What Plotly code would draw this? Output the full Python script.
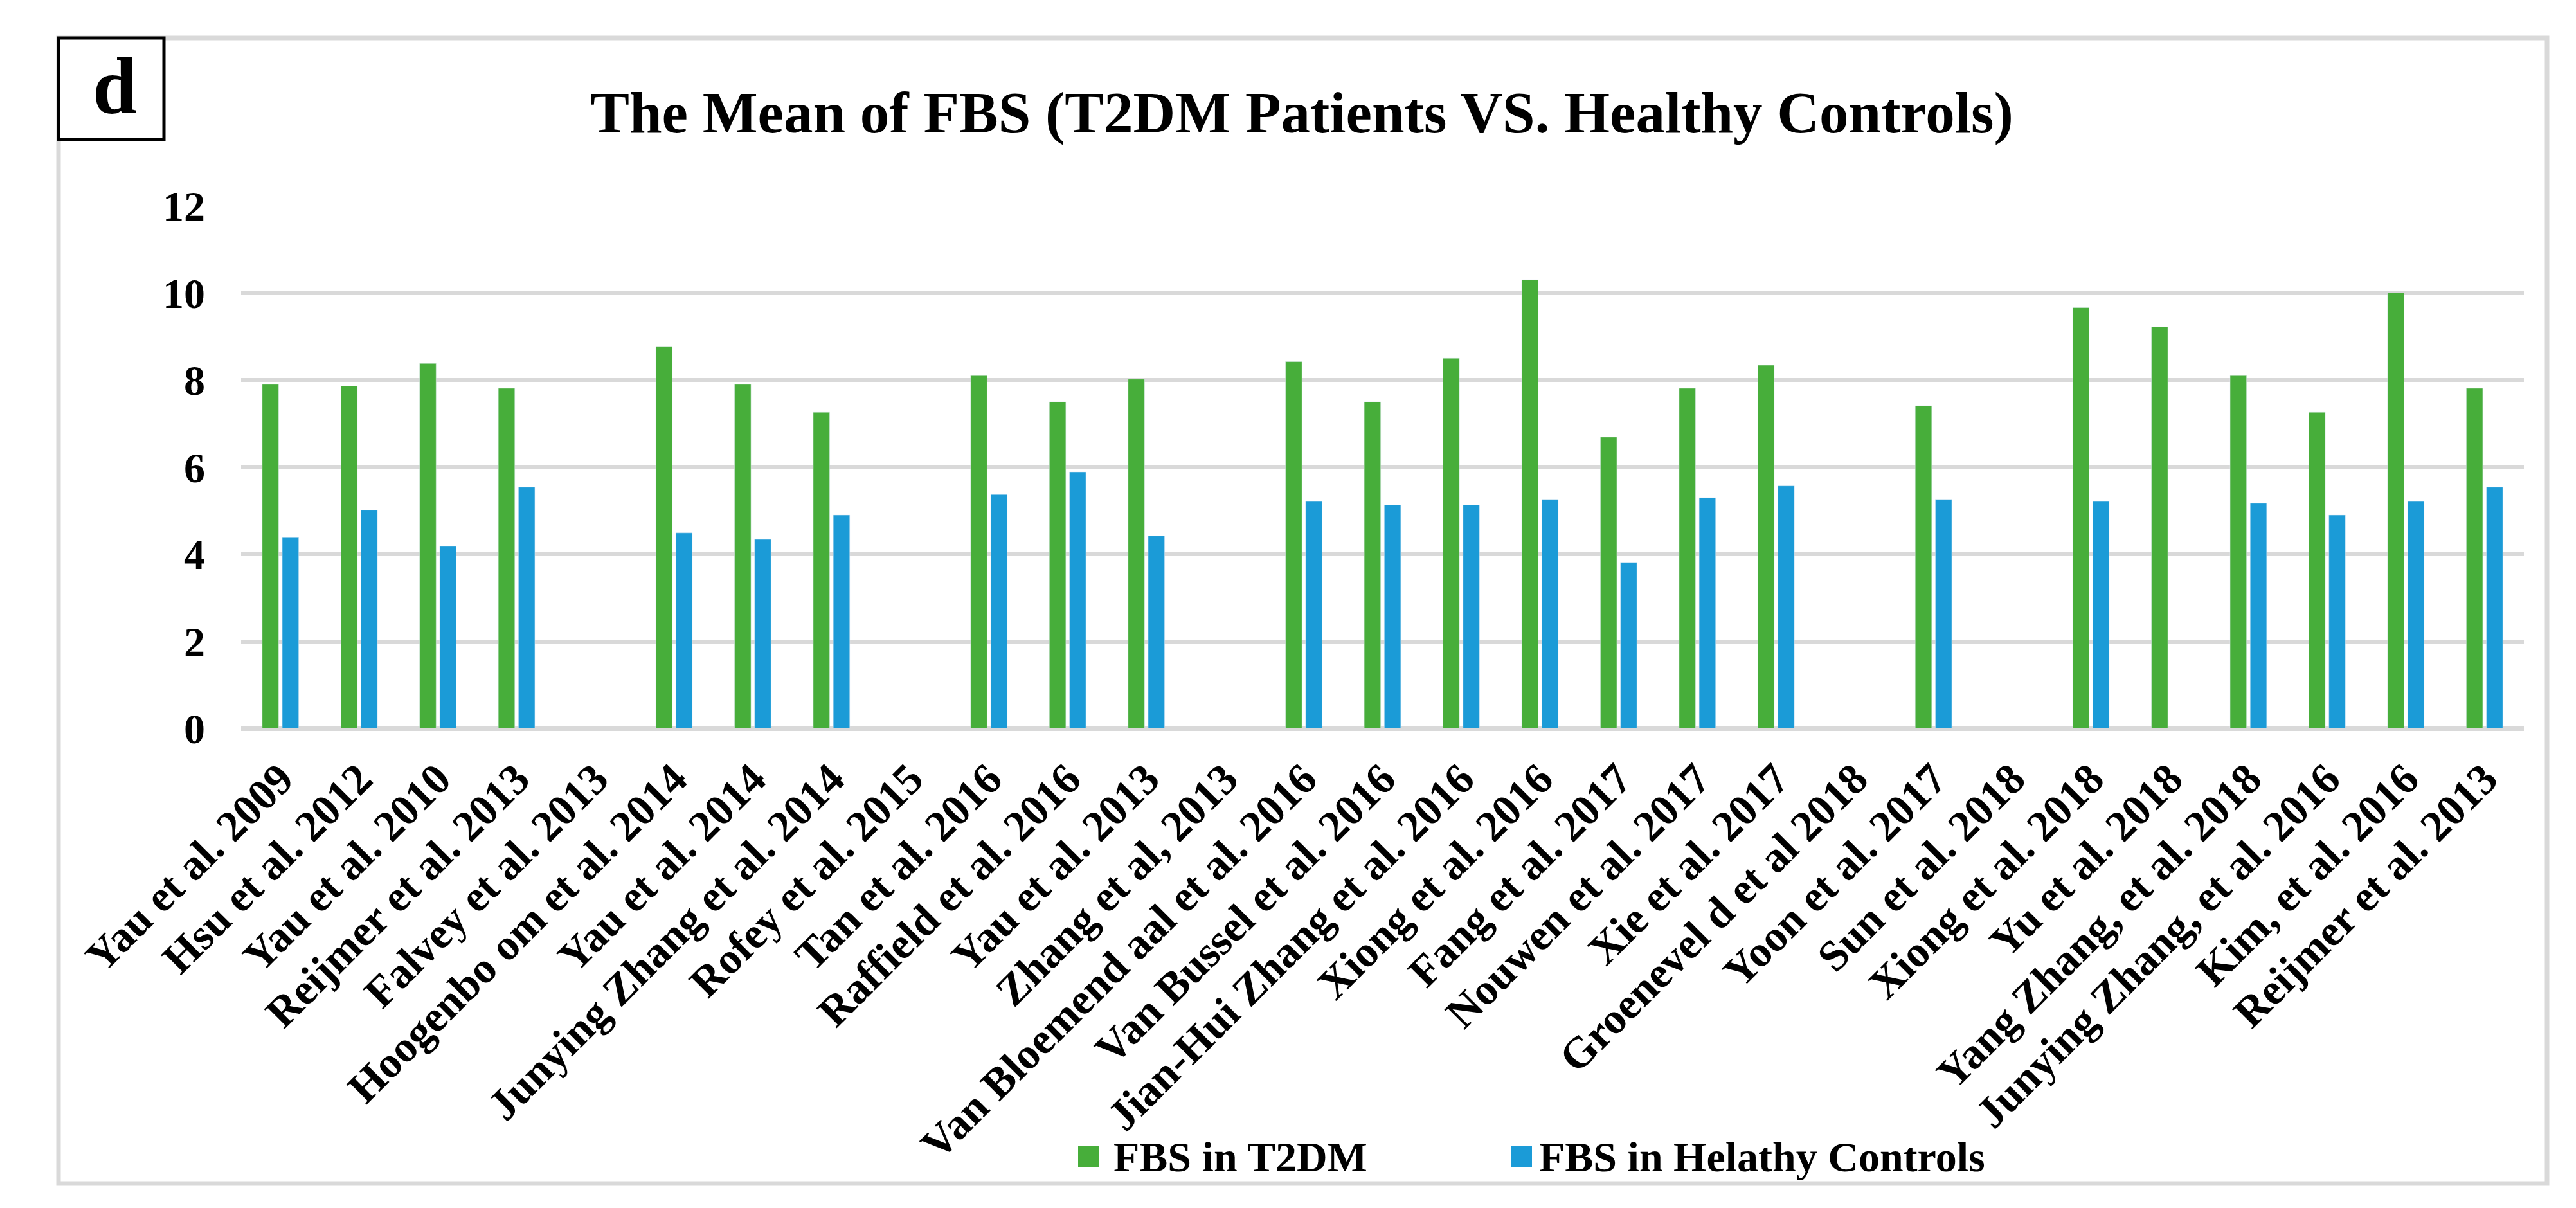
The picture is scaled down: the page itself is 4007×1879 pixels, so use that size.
import plotly.graph_objects as go

studies = [
    "Yau et al. 2009", "Hsu et al. 2012", "Yau et al. 2010", "Reijmer et al. 2013",
    "Falvey et al. 2013", "Hoogenbo om et al. 2014", "Yau et al. 2014",
    "Junying Zhang et al. 2014", "Rofey et al. 2015", "Tan et al. 2016",
    "Raffield et al. 2016", "Yau et al. 2013", "Zhang et al, 2013",
    "Van Bloemend aal et al. 2016", "Van Bussel et al. 2016",
    "Jian-Hui Zhang et al. 2016", "Xiong et al. 2016", "Fang et al. 2017",
    "Nouwen et al. 2017", "Xie et al. 2017", "Groenevel d et al 2018",
    "Yoon et al. 2017", "Sun et al. 2018", "Xiong et al. 2018", "Yu et al. 2018",
    "Yang Zhang, et al. 2018", "Junying Zhang, et al. 2016", "Kim, et al. 2016",
    "Reijmer et al. 2013",
]
fbs_t2dm = [7.90, 7.86, 8.38, 7.81, None, 8.77, 7.90, 7.26, None, 8.10,
            7.50, 8.02, None, 8.42, 7.50, 8.50, 10.30, 6.69, 7.81, 8.34,
            None, 7.41, None, 9.66, 9.22, 8.10, 7.26, 10.00, 7.81]
fbs_healthy = [4.38, 5.01, 4.18, 5.54, None, 4.49, 4.34, 4.90, None, 5.37,
               5.89, 4.42, None, 5.21, 5.13, 5.13, 5.26, 3.81, 5.30, 5.57,
               None, 5.26, None, 5.21, None, 5.17, 4.90, 5.21, 5.54]
y_ticks = [0, 2, 4, 6, 8, 10, 12]

GREEN = "#47AE3A"
BLUE = "#1B9BD7"
FONT = "Liberation Serif"

W, H = 4007, 1879
L, R, T, B = 367, 3918, 312, 1125  # plot area in pixels

def px(x):
    return (x - L) / (R - L)

def py(y):
    return (B - y) / (B - T)

idx = list(range(len(studies)))

fig = go.Figure()
fig.add_trace(go.Bar(x=idx, y=fbs_t2dm, name="FBS in T2DM",
                     marker=dict(color=GREEN), showlegend=False))
fig.add_trace(go.Bar(x=idx, y=fbs_healthy, name="FBS in Helathy Controls",
                     marker=dict(color=BLUE), showlegend=False))

shapes = [
    # outer frame
    dict(type="rect", xref="paper", yref="paper",
         x0=px(83), x1=px(3954), y0=py(1833), y1=py(51),
         line=dict(color="#D9D9D9", width=7), fillcolor="rgba(0,0,0,0)", layer="below"),
    # "d" panel box
    dict(type="rect", xref="paper", yref="paper",
         x0=px(83), x1=px(247), y0=py(209), y1=py(51),
         line=dict(color="black", width=5), fillcolor="white"),
    # legend swatches
    dict(type="rect", xref="paper", yref="paper",
         x0=px(1669), x1=px(1701), y0=py(1808), y1=py(1775),
         line=dict(width=0), fillcolor=GREEN),
    dict(type="rect", xref="paper", yref="paper",
         x0=px(2342), x1=px(2375), y0=py(1808), y1=py(1775),
         line=dict(width=0), fillcolor=BLUE),
]

annotations = [
    dict(text="d", xref="paper", yref="paper", x=px(170), y=py(126),
         xanchor="center", yanchor="middle", showarrow=False,
         font=dict(family=FONT, size=124, color="black", weight=700)),
    dict(text="FBS in T2DM", xref="paper", yref="paper", x=px(1722), y=py(1791),
         xanchor="left", yanchor="middle", showarrow=False,
         font=dict(family=FONT, size=66, color="black", weight=700)),
    dict(text="FBS in Helathy Controls", xref="paper", yref="paper", x=px(2384), y=py(1791),
         xanchor="left", yanchor="middle", showarrow=False,
         font=dict(family=FONT, size=66, color="black", weight=700)),
]

fig.update_layout(
    width=W, height=H,
    margin=dict(l=L, r=W - R, t=T, b=H - B, pad=0),
    paper_bgcolor="white", plot_bgcolor="white",
    barmode="group", bargap=0.49, bargroupgap=0.18,
    title=dict(text="The Mean of FBS (T2DM Patients VS. Healthy Controls)",
               x=2017 / W, xanchor="center", y=1 - 166 / H, yanchor="middle",
               font=dict(family=FONT, size=91, color="black", weight=700)),
    xaxis=dict(range=[-0.5, len(studies) - 0.5], tickmode="array",
               tickvals=idx, ticktext=studies, tickangle=-45,
               showgrid=False, zeroline=False, showline=False, ticks="",
               ticklabelstandoff=24,
               tickfont=dict(family=FONT, size=68, color="black", weight=700)),
    yaxis=dict(range=[0, 12], tickmode="array", tickvals=y_ticks,
               showgrid=True, gridcolor="#D9D9D9", gridwidth=6,
               zeroline=True, zerolinecolor="#D9D9D9", zerolinewidth=7,
               showline=False, ticks="", ticklabelstandoff=55,
               tickfont=dict(family=FONT, size=66, color="black", weight=700)),
    shapes=shapes, annotations=annotations,
    font=dict(family=FONT, color="black"),
)

fig.write_html("out.html")
